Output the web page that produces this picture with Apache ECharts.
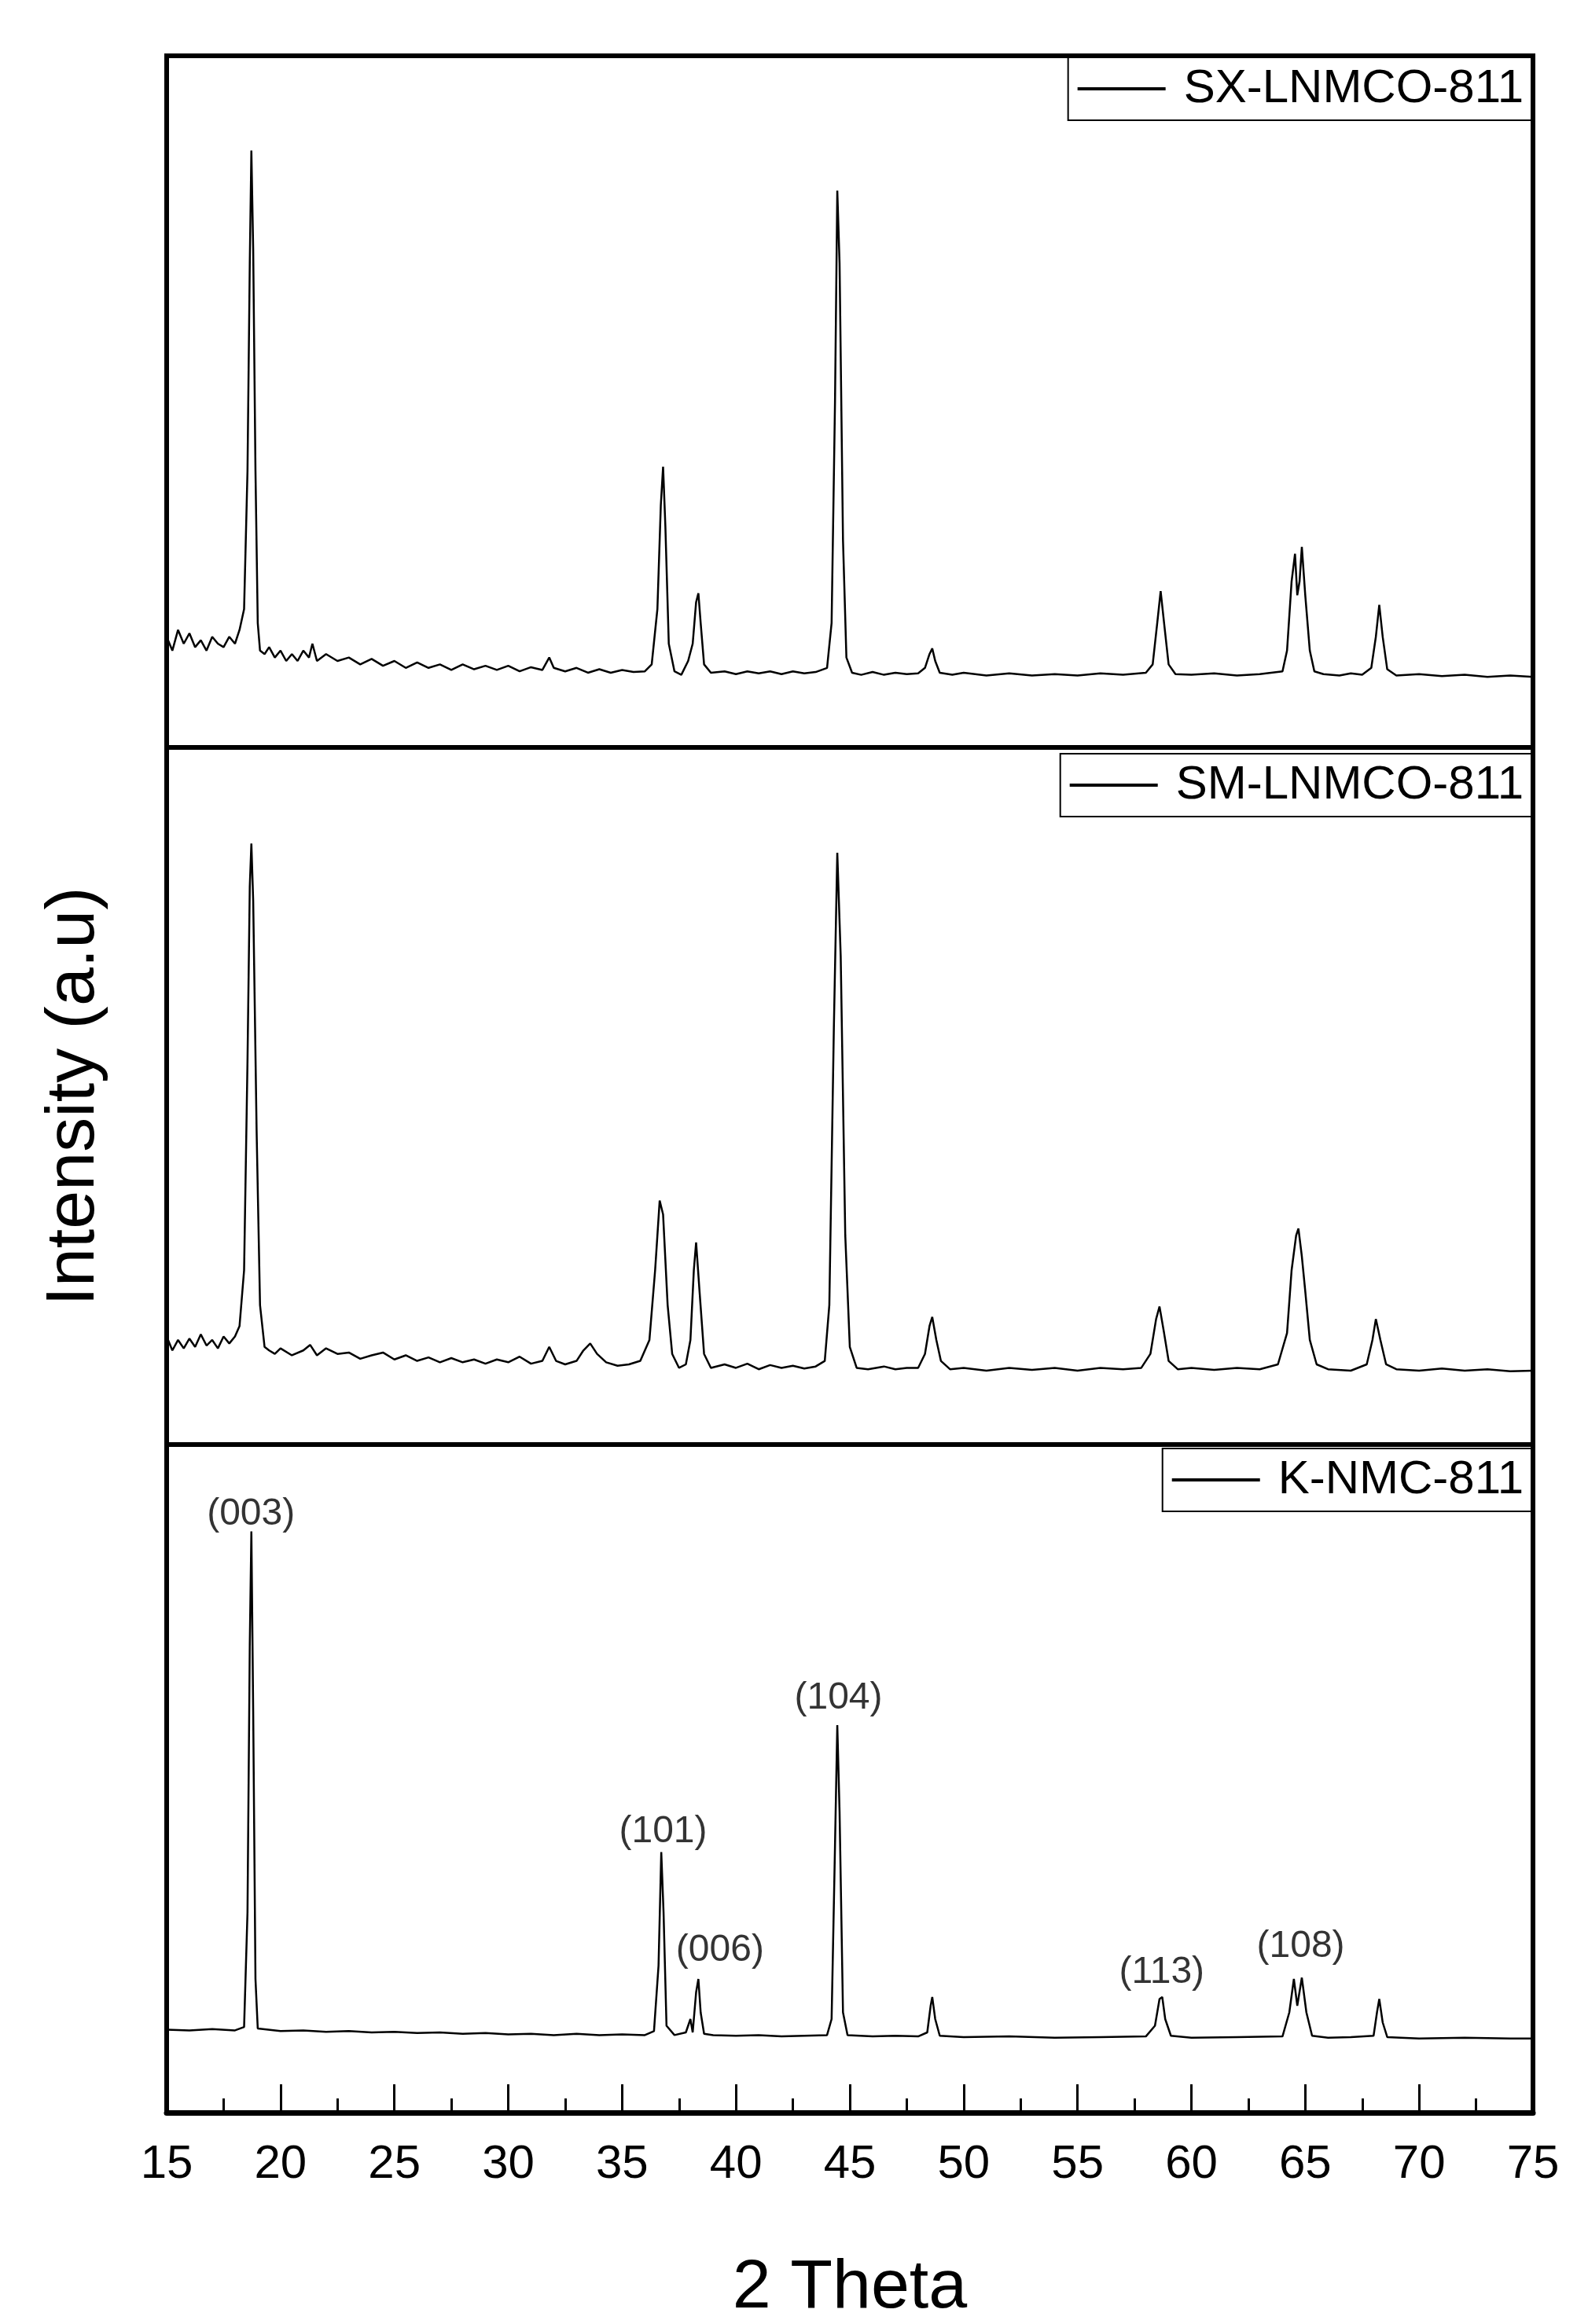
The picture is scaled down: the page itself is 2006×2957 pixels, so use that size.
<!DOCTYPE html>
<html>
<head>
<meta charset="utf-8">
<script src="https://cdn.jsdelivr.net/npm/echarts@6/dist/echarts.min.js"></script>
<style>
  html, body { margin: 0; padding: 0; background: #fff; }
  #chart { width: 2006px; height: 2957px; }
</style>
</head>
<body>
<div id="chart"></div>
<script>
// 2θ / relative intensity pairs
const sxPattern = [
  [15,16],[15.25,14],[15.5,17],[15.75,15],[16,16.5],[16.25,14.5],[16.5,15.5],[16.75,14],[17,16],[17.25,15],[17.5,14.5],[17.75,16],[18,15],[18.2,17],
  [18.4,20],[18.55,40],[18.65,70],[18.72,86.3],[18.8,72],[18.9,40],[19.0,18],[19.1,14],[19.3,13.5],[19.5,14.5],[19.75,13],[20,14],[20.25,12.5],[20.5,13.5],
  [20.75,12.5],[21,14],[21.25,13],[21.4,15],[21.6,12.5],[22,13.5],[22.5,12.5],[23,13],[23.5,12],[24,12.8],[24.5,11.8],[25,12.5],[25.5,11.5],[26,12.3],
  [26.5,11.5],[27,12],[27.5,11.2],[28,12],[28.5,11.3],[29,11.8],[29.5,11.2],[30,11.8],[30.5,11],[31,11.6],[31.5,11.2],[31.8,13],[32,11.5],[32.5,11],
  [33,11.5],[33.5,10.8],[34,11.3],[34.5,10.8],[35,11.2],[35.5,10.9],[36,11],[36.3,12],[36.55,20],[36.7,35],[36.8,40.6],[36.9,32],[37.05,15],[37.3,11],
  [37.6,10.5],[37.9,12.5],[38.1,15],[38.25,21],[38.35,22.3],[38.45,18],[38.6,12],[38.9,10.8],[39.5,11],[40,10.6],[40.5,11],[41,10.7],[41.5,11],[42,10.6],
  [42.5,11],[43,10.7],[43.5,10.9],[44,11.5],[44.2,18],[44.35,50],[44.45,80.5],[44.55,70],[44.7,30],[44.85,13],[45.1,10.8],[45.5,10.5],[46,10.9],[46.5,10.5],
  [47,10.8],[47.5,10.6],[48,10.7],[48.3,11.5],[48.5,13.5],[48.62,14.3],[48.75,12.5],[48.95,10.8],[49.5,10.5],[50,10.8],[51,10.4],[52,10.7],[53,10.4],
  [54,10.6],[55,10.4],[56,10.7],[57,10.5],[58,10.8],[58.3,12],[58.5,18],[58.65,22.6],[58.8,18],[59,12],[59.3,10.6],[60,10.5],[61,10.7],[62,10.4],[63,10.6],
  [64,11],[64.2,14],[64.4,24],[64.55,28],[64.65,22],[64.75,24],[64.85,29],[65.0,22],[65.2,14],[65.4,11],[65.8,10.6],[66.5,10.4],[67,10.7],[67.5,10.5],
  [67.9,11.5],[68.1,16],[68.25,20.6],[68.4,16],[68.6,11.3],[69,10.4],[70,10.6],[71,10.3],[72,10.5],[73,10.2],[74,10.4],[75,10.2]
];
const smPattern = [
  [15,15.5],[15.25,13.5],[15.5,15],[15.75,13.8],[16,15.2],[16.25,14],[16.5,15.8],[16.75,14.2],[17,15],[17.25,13.8],[17.5,15.5],[17.75,14.5],[18,15.5],
  [18.2,17],[18.4,25],[18.55,55],[18.65,80],[18.72,86.2],[18.8,78],[18.95,45],[19.1,20],[19.3,14],[19.5,13.5],[19.75,13],[20,13.8],[20.5,12.8],[21,13.5],
  [21.3,14.3],[21.6,12.8],[22,13.8],[22.5,13],[23,13.2],[23.5,12.3],[24,12.8],[24.5,13.2],[25,12.2],[25.5,12.8],[26,12],[26.5,12.5],[27,11.8],[27.5,12.4],
  [28,11.8],[28.5,12.2],[29,11.6],[29.5,12.2],[30,11.8],[30.5,12.6],[31,11.6],[31.5,12],[31.8,14],[32.1,12],[32.5,11.5],[33,12],[33.3,13.5],[33.6,14.5],
  [33.9,13],[34.3,11.8],[34.8,11.3],[35.3,11.5],[35.8,12],[36.2,15],[36.45,25],[36.65,35],[36.8,33],[37.0,20],[37.2,13],[37.5,11],[37.8,11.5],[38.0,15],
  [38.15,25],[38.25,29],[38.4,22],[38.6,13],[38.9,11],[39.5,11.5],[40,11],[40.5,11.6],[41,10.8],[41.5,11.4],[42,11],[42.5,11.3],[43,10.9],[43.5,11.2],
  [43.9,12],[44.1,20],[44.3,60],[44.45,84.9],[44.6,70],[44.8,30],[45,14],[45.3,11],[45.8,10.8],[46.5,11.2],[47,10.8],[47.5,11],[48,11],[48.3,13],[48.5,17],
  [48.62,18.3],[48.8,15],[49,12],[49.4,10.8],[50,11],[51,10.6],[52,11],[53,10.7],[54,11],[55,10.6],[56,11],[57,10.8],[57.8,11],[58.2,13],[58.45,18],
  [58.6,19.8],[58.8,16],[59,12],[59.4,10.8],[60,11],[61,10.7],[62,11],[63,10.8],[63.8,11.5],[64.2,16],[64.4,25],[64.6,30],[64.7,31],[64.85,27],[65,22],
  [65.2,15],[65.5,11.5],[66,10.8],[67,10.6],[67.7,11.5],[67.95,15],[68.1,18],[68.3,15],[68.55,11.5],[69,10.8],[70,10.6],[71,10.9],[72,10.6],[73,10.8],
  [74,10.5],[75,10.6]
];
const kPattern = [
  [15,12.4],[16,12.3],[17,12.5],[18,12.3],[18.4,12.8],[18.55,30],[18.65,70],[18.72,87],[18.8,60],[18.9,20],[19.0,12.6],[20,12.2],[21,12.3],[22,12.1],
  [23,12.2],[24,12],[25,12.1],[26,11.9],[27,12],[28,11.8],[29,11.9],[30,11.7],[31,11.8],[32,11.6],[33,11.8],[34,11.6],[35,11.7],[36,11.6],[36.4,12.2],
  [36.6,22],[36.72,39],[36.82,30],[36.95,13],[37.3,11.6],[37.8,12],[38.0,14],[38.1,12],[38.25,18],[38.35,20],[38.45,15],[38.6,11.8],[39,11.6],[40,11.5],
  [41,11.6],[42,11.4],[43,11.5],[44,11.6],[44.2,14],[44.35,40],[44.45,58],[44.55,45],[44.7,15],[44.9,11.6],[46,11.4],[47,11.5],[48,11.4],[48.4,12],
  [48.55,16],[48.62,17.3],[48.75,14],[48.95,11.5],[50,11.3],[52,11.4],[54,11.2],[56,11.3],[58,11.4],[58.4,13],[58.6,17],[58.72,17.3],[58.85,14],
  [59.1,11.5],[60,11.2],[62,11.3],[64,11.4],[64.3,15],[64.5,20],[64.65,16],[64.85,20.2],[65.05,15],[65.3,11.5],[66,11.2],[67,11.3],[68,11.5],[68.15,15],
  [68.25,17],[68.4,13.5],[68.6,11.3],[70,11.1],[72,11.2],[74,11.1],[75,11.1]
];
const seriesNames = ['SX-LNMCO-811', 'SM-LNMCO-811', 'K-NMC-811'];
const peakLabels = ['(003)', '(101)', '(006)', '(104)', '(113)', '(108)'];
const peakLabelX = [18.7, 36.8, 39.3, 44.5, 58.7, 64.8];
const peakLabelY = [89.5, 42, 24.3, 62, 21, 24.8];
const xTicks = [15, 20, 25, 30, 35, 40, 45, 50, 55, 60, 65, 70, 75];

const chart = echarts.init(document.getElementById('chart'));
const font = 'Liberation Sans';
const patterns = [sxPattern, smPattern, kPattern];
const grids = [
  { left: 212, right: 56, top: 71, height: 880 },
  { left: 212, right: 56, top: 951, height: 887 },
  { left: 212, right: 56, top: 1838, height: 879 },
];
const legendTops = [73, 959, 1843];

const option = {
  animation: false,
  backgroundColor: '#fff',
  textStyle: { fontFamily: font, color: '#000' },
  grid: grids.map(g => ({ ...g, show: true, borderColor: '#000', borderWidth: 6, backgroundColor: 'transparent' })),
  legend: seriesNames.map((n, i) => ({
    data: [n],
    right: 58,
    top: legendTops[i],
    orient: 'horizontal',
    borderColor: '#000',
    borderWidth: 2,
    padding: [10, 10, 10, 12],
    itemWidth: 112,
    itemHeight: 4,
    itemGap: 0,
    icon: 'rect',
    textStyle: { fontFamily: font, fontSize: 60, color: '#000', padding: [0, 0, 0, 18] },
  })),
  xAxis: grids.map((g, i) => ({
    type: 'value',
    gridIndex: i,
    min: 15,
    max: 75,
    interval: 5,
    axisLine: { show: i === 2, lineStyle: { color: '#000', width: 7 } },
    axisTick: { show: i === 2, inside: true, length: 36, lineStyle: { color: '#000', width: 3 } },
    minorTick: { show: i === 2, splitNumber: 2, length: 18, lineStyle: { color: '#000', width: 3 } },
    axisLabel: {
      show: i === 2, margin: 36, fontSize: 60, color: '#000', fontFamily: font,
      formatter: v => (xTicks.includes(v) ? String(v) : ''),
    },
    splitLine: { show: false },
    name: i === 2 ? '2 Theta' : '',
    nameLocation: 'middle',
    nameGap: 180,
    nameTextStyle: { fontSize: 88, color: '#000', fontFamily: font },
  })),
  yAxis: grids.map((g, i) => ({
    type: 'value',
    gridIndex: i,
    min: 0,
    max: 100,
    axisLine: { show: false },
    axisTick: { show: false },
    axisLabel: { show: false },
    splitLine: { show: false },
  })),
  graphic: [{
    type: 'text',
    rotation: Math.PI / 2,
    x: 95,
    y: 1395,
    style: {
      text: 'Intensity (a.u)', fontSize: 88, fontFamily: font, fill: '#000',
      align: 'center', verticalAlign: 'middle',
    },
  }],
  series: [
    ...seriesNames.map((n, i) => ({
      name: n,
      type: 'line',
      xAxisIndex: i,
      yAxisIndex: i,
      data: patterns[i],
      showSymbol: false,
      lineStyle: { color: '#000', width: 2.5 },
      itemStyle: { color: '#000' },
    })),
    {
      type: 'scatter',
      xAxisIndex: 2,
      yAxisIndex: 2,
      symbolSize: 0,
      silent: true,
      data: peakLabels.map((t, k) => ({ value: [peakLabelX[k], peakLabelY[k]], name: t })),
      label: {
        show: true, position: 'inside', formatter: p => p.name,
        fontSize: 48, fontFamily: font, color: '#000', textBorderWidth: 0,
      },
    },
  ],
};
chart.setOption(option);
</script>
</body>
</html>
